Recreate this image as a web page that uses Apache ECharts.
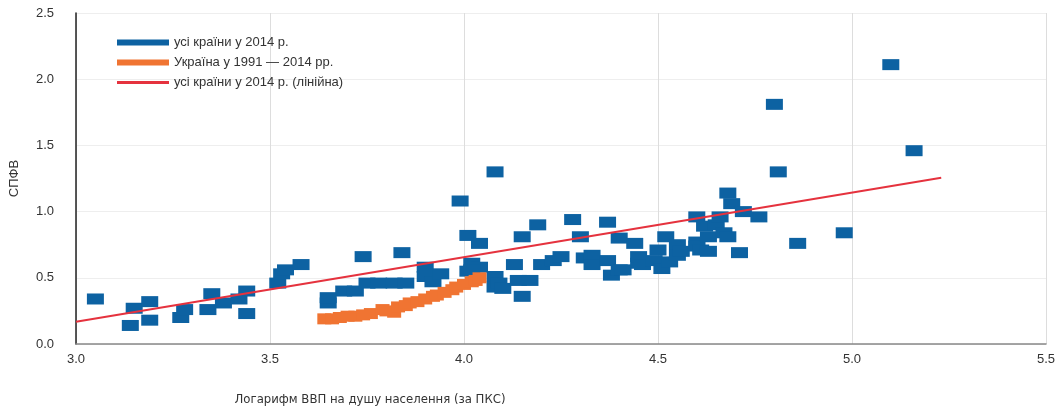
<!DOCTYPE html>
<html>
<head>
<meta charset="utf-8">
<script src="https://cdn.jsdelivr.net/npm/echarts@6/dist/echarts.min.js"></script>
<style>html,body{margin:0;padding:0;background:#fff}#c{width:1063px;height:407px}</style>
</head>
<body>
<div id="c"></div>
<script>
const seriesNames = ['усі країни у 2014 р.', 'Україна у 1991 — 2014 рр.', 'усі країни у 2014 р. (лінійна)'];
const xAxisName = 'Логарифм ВВП на душу населення (за ПКС)';
const yAxisName = 'СПФВ';
const xTicks = [3.0, 3.5, 4.0, 4.5, 5.0, 5.5];
const yTicks = [0.0, 0.5, 1.0, 1.5, 2.0, 2.5];

const allCountries2014 = [
  [3.05,0.34],[3.14,0.14],[3.15,0.27],[3.19,0.32],[3.19,0.18],[3.27,0.20],[3.28,0.26],[3.35,0.38],
  [3.34,0.26],[3.38,0.31],[3.42,0.34],[3.44,0.40],[3.44,0.23],[3.52,0.46],[3.53,0.53],[3.54,0.56],
  [3.58,0.60],[3.65,0.31],[3.65,0.35],[3.69,0.40],[3.72,0.40],[3.74,0.66],[3.75,0.46],[3.78,0.46],
  [3.82,0.46],[3.84,0.69],[3.85,0.46],[3.90,0.58],[3.90,0.51],[3.92,0.47],[3.94,0.53],[3.99,1.08],
  [4.01,0.82],[4.04,0.76],[4.02,0.61],[4.01,0.55],[4.04,0.58],[4.08,1.30],[4.08,0.51],[4.08,0.43],
  [4.02,0.56],[4.09,0.46],[4.10,0.42],[4.13,0.60],[4.14,0.48],[4.15,0.81],[4.15,0.36],[4.17,0.48],
  [4.19,0.90],[4.20,0.60],[4.23,0.63],[4.25,0.66],[4.28,0.94],[4.30,0.81],[4.31,0.65],[4.33,0.67],
  [4.33,0.60],[4.37,0.92],[4.37,0.63],[4.38,0.52],[4.40,0.80],[4.40,0.56],[4.41,0.56],[4.44,0.76],
  [4.45,0.61],[4.45,0.66],[4.46,0.60],[4.49,0.63],[4.50,0.71],[4.51,0.57],[4.52,0.81],[4.53,0.62],
  [4.55,0.75],[4.55,0.67],[4.56,0.70],[4.60,0.96],[4.60,0.77],[4.60,0.74],[4.61,0.71],[4.62,0.89],
  [4.63,0.81],[4.63,0.70],[4.65,0.90],[4.66,0.96],[4.67,0.84],[4.68,1.14],[4.68,0.81],[4.69,1.06],
  [4.71,0.69],[4.72,1.00],[4.76,0.96],[4.80,1.81],[4.81,1.30],[4.86,0.76],[4.98,0.84],[5.10,2.11],
  [5.16,1.46]
];

const ukraine1991_2014 = [
  [3.64,0.19],[3.66,0.19],[3.68,0.20],[3.70,0.21],[3.72,0.21],[3.74,0.22],[3.76,0.23],[3.79,0.26],
  [3.80,0.25],[3.82,0.24],[3.83,0.28],[3.85,0.29],[3.86,0.31],[3.88,0.32],[3.90,0.34],[3.92,0.36],
  [3.93,0.37],[3.95,0.39],[3.97,0.41],[3.98,0.43],[4.00,0.45],[4.02,0.47],[4.03,0.48],[4.04,0.50]
];

const linearTrend = [[3.0,0.168],[5.23,1.256]];

const chart = echarts.init(document.getElementById('c'));
const labelFont = 'Liberation Sans, Arial, sans-serif';
chart.setOption({
  animation: false,
  backgroundColor: '#fff',
  grid: { left: 76, right: 17, top: 13, bottom: 63, containLabel: false, outerBoundsMode: 'none' },
  legend: {
    orient: 'vertical', left: 112, top: 31,
    itemWidth: 52, itemHeight: 6, itemGap: 7,
    symbolKeepAspect: true,
    textStyle: { fontSize: 13, color: '#333', fontFamily: labelFont },
    data: [
      { name: seriesNames[0], icon: 'rect' },
      { name: seriesNames[1], icon: 'rect' },
      { name: seriesNames[2], icon: 'path://M0,0L52,0L52,3L0,3Z' }
    ]
  },
  xAxis: {
    type: 'value', min: 3.0, max: 5.5, interval: 0.5,
    name: xAxisName, nameLocation: 'middle', nameGap: 49,
    nameTextStyle: { fontSize: 13, color: '#333', fontFamily: 'Liberation Sans Narrow, DejaVu Sans Condensed, sans-serif', padding: [0, 382, 0, 0] },
    axisLine: { lineStyle: { color: '#888', width: 1.5 } },
    axisTick: { show: false },
    axisLabel: { fontSize: 13, color: '#333', margin: 9, fontFamily: labelFont,
      formatter: v => { const t = xTicks.find(k => Math.abs(k - v) < 1e-9); return (t === undefined ? v : t).toFixed(1); } },
    splitLine: { show: true, lineStyle: { color: '#ddd', width: 1 } }
  },
  yAxis: {
    type: 'value', min: 0, max: 2.5, interval: 0.5,
    name: yAxisName, nameLocation: 'middle', nameGap: 55, nameRotate: 90,
    nameTextStyle: { fontSize: 13, color: '#333', fontFamily: labelFont },
    axisLine: { show: true, lineStyle: { color: '#222', width: 1.5 } },
    axisTick: { show: false },
    axisLabel: { fontSize: 13, color: '#333', margin: 22, fontFamily: labelFont,
      formatter: v => { const t = yTicks.find(k => Math.abs(k - v) < 1e-9); return (t === undefined ? v : t).toFixed(1); } },
    splitLine: { show: true, lineStyle: { color: '#eee', width: 1 } }
  },
  series: [
    {
      name: seriesNames[0], type: 'scatter', data: allCountries2014,
      symbol: 'rect', symbolSize: [17, 11],
      itemStyle: { color: '#0d62a2', opacity: 1 }, z: 3
    },
    {
      name: seriesNames[1], type: 'scatter', data: ukraine1991_2014,
      symbol: 'rect', symbolSize: [14, 11],
      itemStyle: { color: '#f07432', opacity: 1 }, z: 4
    },
    {
      name: seriesNames[2], type: 'line', data: linearTrend,
      symbol: 'none', lineStyle: { color: '#e5323e', width: 2 },
      itemStyle: { color: '#e5323e' }, z: 5
    }
  ]
});
</script>
</body>
</html>
